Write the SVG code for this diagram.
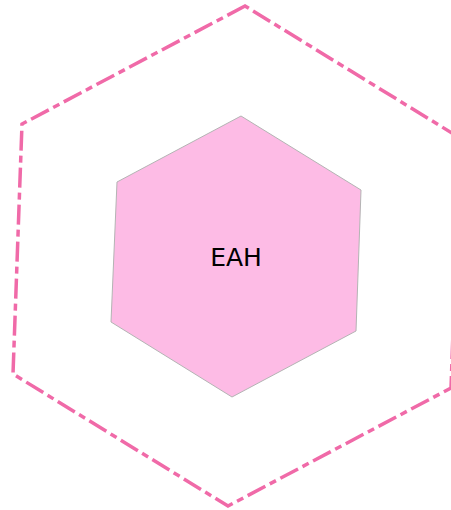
<svg xmlns="http://www.w3.org/2000/svg" width="451" height="510" viewBox="0 0 451 510">
<style>
.outer{fill:none;stroke:#f06aa8;stroke-width:3.5;stroke-dasharray:20 5 7 5}
.inner{fill:#fdbbe5;stroke:#b4b4b4;stroke-width:1}
.lbl{font-family:"DejaVu Sans",sans-serif;font-size:25px;fill:#000;text-anchor:middle}
</style>
<g id="outer-hex">
<polygon class="outer" points="245,6 22,124 13,374 228,506 451,388 460,138"/>
</g>
<g id="EAH">
<polygon class="inner" points="241,116 117,182 111,322 232,397 356,331 361,190"/>
<text class="lbl" x="236" y="266">EAH</text>
</g>
<g id="connectors"/>
</svg>
